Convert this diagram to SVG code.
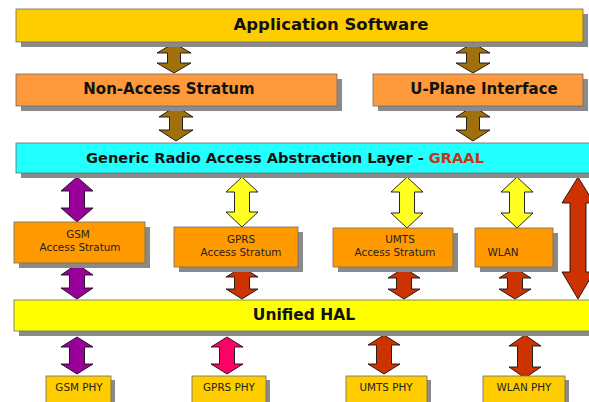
<svg xmlns="http://www.w3.org/2000/svg" width="589" height="402" viewBox="0 0 589 402">
<style>
.sh{fill:#8a8a8a}
.bx{stroke:#6b6b6b;stroke-width:0.8}
.gold{fill:#FFCC00}
.org1{fill:#FF9A3C}
.org2{fill:#FF9900}
.cyan{fill:#22FFFF}
.yel{fill:#FFFF00}
.big{font-family:"DejaVu Sans",Verdana,sans-serif;font-weight:bold;fill:#111111;text-anchor:middle}
.sm{font-family:"DejaVu Sans",Verdana,sans-serif;font-size:10.4px;fill:#222222;text-anchor:middle}
.ar{stroke:#111;stroke-width:0.9;stroke-linejoin:miter}
.brown{fill:#A0700C}
.purp{fill:#990099}
.ylw{fill:#FFFF22}
.red{fill:#CC3300}
.pink{fill:#FF0066}
</style>
<rect width="589" height="402" fill="#ffffff"/>

<g id="connectors">
<polygon class="ar brown" points="174,43 191,53 180.5,53 180.5,63 191,63 174,73 157,63 167.5,63 167.5,53 157,53"/>
<polygon class="ar brown" points="473,43 490,53 479.5,53 479.5,63 490,63 473,73 456,63 466.5,63 466.5,53 456,53"/>
<polygon class="ar brown" points="176,106 193,117 182.5,117 182.5,130 193,130 176,141 159,130 169.5,130 169.5,117 159,117"/>
<polygon class="ar brown" points="473,106 490,117 479.5,117 479.5,130 490,130 473,141 456,130 466.5,130 466.5,117 456,117"/>
<polygon class="ar purp" points="77,177 93,191 84.5,191 84.5,208 93,208 77,222 61,208 69.5,208 69.5,191 61,191"/>
<polygon class="ar ylw" points="242,177 258,192 249.5,192 249.5,212 258,212 242,227 226,212 234.5,212 234.5,192 226,192"/>
<polygon class="ar ylw" points="407,177 423,192 414.5,192 414.5,213 423,213 407,228 391,213 399.5,213 399.5,192 391,192"/>
<polygon class="ar ylw" points="517,177 533,192 524.5,192 524.5,213 533,213 517,228 501,213 509.5,213 509.5,192 501,192"/>
<polygon class="ar purp" points="77,264 93,275 84.5,275 84.5,288 93,288 77,299 61,288 69.5,288 69.5,275 61,275"/>
<polygon class="ar red" points="242,267 258,277 249.5,277 249.5,289 258,289 242,299 226,289 234.5,289 234.5,277 226,277"/>
<polygon class="ar red" points="404,268 420,278 411.5,278 411.5,289 420,289 404,299 388,289 396.5,289 396.5,278 388,278"/>
<polygon class="ar red" points="515,268 531,278 522.5,278 522.5,289 531,289 515,299 499,289 507.5,289 507.5,278 499,278"/>
<polygon class="ar red" points="578,177 594,203 586,203 586,272 594,272 578,299 562,272 570,272 570,203 562,203"/>
<polygon class="ar purp" points="77,337 93,347 84.5,347 84.5,364 93,364 77,374 61,364 69.5,364 69.5,347 61,347"/>
<polygon class="ar pink" points="227,337 243,347 234.5,347 234.5,364 243,364 227,374 211,364 219.5,364 219.5,347 211,347"/>
<polygon class="ar red" points="384,335 400,345 391.5,345 391.5,364 400,364 384,374 368,364 376.5,364 376.5,345 368,345"/>
<polygon class="ar red" points="525,335 541,346 532.5,346 532.5,367 541,367 525,378 509,367 517.5,367 517.5,346 509,346"/>
</g>

<g id="app-software">
<rect class="sh" x="21" y="14" width="567" height="33"/>
<rect class="bx gold" x="16" y="9" width="567" height="33"/>
<text class="big" x="331" y="30" font-size="16.5">Application Software</text>
</g>

<g id="non-access-stratum">
<rect class="sh" x="21" y="79" width="321" height="32"/>
<rect class="bx org1" x="16" y="74" width="321" height="32"/>
<text class="big" x="169" y="94" font-size="15">Non-Access Stratum</text>
</g>

<g id="u-plane-interface">
<rect class="sh" x="378" y="79" width="210" height="32"/>
<rect class="bx org1" x="373" y="74" width="210" height="32"/>
<text class="big" x="484" y="94" font-size="15">U-Plane Interface</text>
</g>

<g id="graal">
<rect class="sh" x="21" y="148" width="580" height="30"/>
<rect class="bx cyan" x="16" y="143" width="580" height="30"/>
<text class="big" x="285" y="163" font-size="14.6">Generic Radio Access Abstraction Layer - <tspan fill="#CC3311">GRAAL</tspan></text>
</g>

<g id="gsm-as">
<rect class="sh" x="19" y="227" width="131" height="41"/>
<rect class="bx org2" x="14" y="222" width="131" height="41"/>
<text class="sm" x="78" y="237.5">GSM</text>
<text class="sm" x="80" y="250.5">Access Stratum</text>
</g>

<g id="gprs-as">
<rect class="sh" x="179" y="232" width="124" height="40"/>
<rect class="bx org2" x="174" y="227" width="124" height="40"/>
<text class="sm" x="241" y="242.5">GPRS</text>
<text class="sm" x="241" y="255.5">Access Stratum</text>
</g>

<g id="umts-as">
<rect class="sh" x="338" y="233" width="120" height="39"/>
<rect class="bx org2" x="333" y="228" width="120" height="39"/>
<text class="sm" x="400" y="242.5">UMTS</text>
<text class="sm" x="395" y="255.5">Access Stratum</text>
</g>

<g id="wlan-as">
<rect class="sh" x="480" y="233" width="78" height="39"/>
<rect class="bx org2" x="475" y="228" width="78" height="39"/>
<text class="sm" x="503" y="255.5">WLAN</text>
</g>

<g id="unified-hal">
<rect class="sh" x="19" y="305" width="580" height="31"/>
<rect class="bx yel" x="14" y="300" width="580" height="31"/>
<text class="big" x="304" y="320" font-size="15.5">Unified HAL</text>
</g>

<g id="gsm-phy">
<rect class="sh" x="50" y="380" width="65" height="30"/>
<rect class="bx gold" x="46" y="376" width="65" height="30"/>
<text class="sm" x="79" y="391">GSM PHY</text>
</g>

<g id="gprs-phy">
<rect class="sh" x="196" y="380" width="74" height="30"/>
<rect class="bx gold" x="192" y="376" width="74" height="30"/>
<text class="sm" x="229" y="391">GPRS PHY</text>
</g>

<g id="umts-phy">
<rect class="sh" x="350" y="380" width="81" height="30"/>
<rect class="bx gold" x="346" y="376" width="81" height="30"/>
<text class="sm" x="386" y="391">UMTS PHY</text>
</g>

<g id="wlan-phy">
<rect class="sh" x="487" y="380" width="82" height="30"/>
<rect class="bx gold" x="483" y="376" width="82" height="30"/>
<text class="sm" x="524" y="391">WLAN PHY</text>
</g>
</svg>
